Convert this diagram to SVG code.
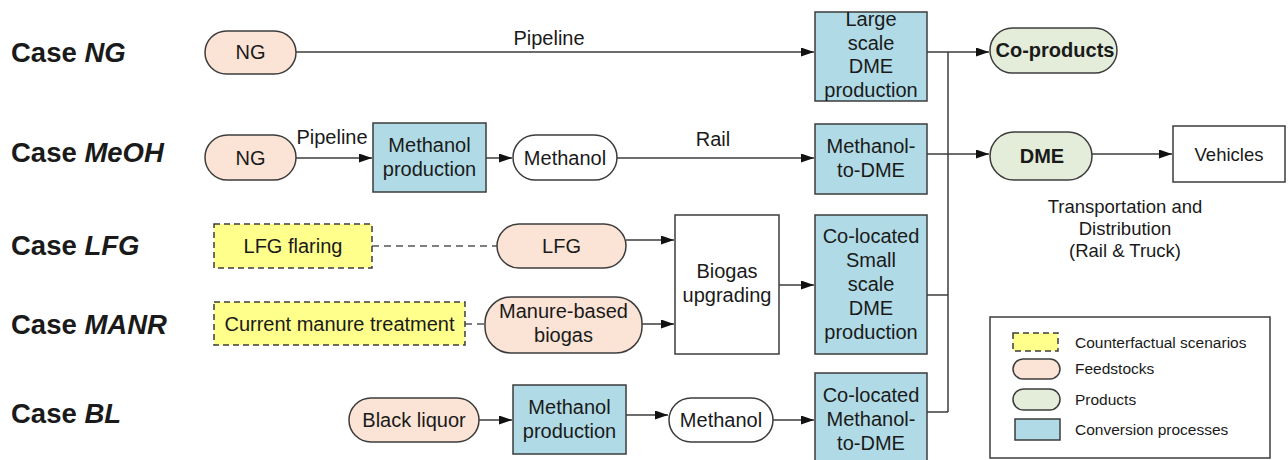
<svg xmlns="http://www.w3.org/2000/svg" width="1288" height="460" viewBox="0 0 1288 460">
  <style>
    text { font-family: "Liberation Sans", Arial, sans-serif; fill: #1a1a1a; }
    .case { font-size: 27.5px; font-weight: bold; }
    .lbl { font-size: 20px; text-anchor: middle; }
    .sm { font-size: 18.5px; text-anchor: middle; }
    .bold { font-weight: bold; }
    .leg { font-size: 15.5px; }
    .feed { fill: #fbe4d5; stroke: #3c3c3c; stroke-width: 1.5; }
    .prod { fill: #e3edd9; stroke: #3c3c3c; stroke-width: 1.5; }
    .proc { fill: #b0dbe6; stroke: #3c3c3c; stroke-width: 1.5; }
    .plain { fill: #ffffff; stroke: #3c3c3c; stroke-width: 1.5; }
    .cf { fill: #ffff8c; stroke: #3c3c3c; stroke-width: 1.5; stroke-dasharray: 6 4; }
    .wire { fill: none; stroke: #3c3c3c; stroke-width: 1.5; }
    .arrow { fill: none; stroke: #3c3c3c; stroke-width: 1.5; marker-end: url(#head); }
    .dash { fill: none; stroke: #555; stroke-width: 1.5; stroke-dasharray: 7 5; }
  </style>
  <defs>
    <marker id="head" markerUnits="userSpaceOnUse" markerWidth="14" markerHeight="9" refX="13" refY="4.5" orient="auto">
      <path d="M0,0 L13,4.5 L0,9 z" fill="#111"/>
    </marker>
  </defs>

  <rect width="1288" height="460" fill="#ffffff"/>

  <!-- case titles -->
  <g id="case-labels">
    <text class="case" x="11" y="62">Case <tspan font-style="italic">NG</tspan></text>
    <text class="case" x="11" y="162">Case <tspan font-style="italic">MeOH</tspan></text>
    <text class="case" x="11" y="255">Case <tspan font-style="italic">LFG</tspan></text>
    <text class="case" x="11" y="334">Case <tspan font-style="italic">MANR</tspan></text>
    <text class="case" x="11" y="423">Case <tspan font-style="italic">BL</tspan></text>
  </g>

  <!-- connectors -->
  <g id="connectors">
    <line class="arrow" x1="296" y1="52" x2="814" y2="52"/>
    <text class="lbl" x="549" y="45">Pipeline</text>

    <line class="arrow" x1="296" y1="158" x2="372" y2="158"/>
    <text class="lbl" x="332" y="144">Pipeline</text>
    <line class="arrow" x1="486" y1="158" x2="512" y2="158"/>
    <line class="arrow" x1="617" y1="158" x2="814" y2="158"/>
    <text class="lbl" x="713" y="146">Rail</text>

    <line class="dash" x1="372" y1="246" x2="497" y2="246"/>
    <line class="arrow" x1="626" y1="240" x2="674" y2="240"/>
    <line class="dash" x1="465" y1="324" x2="485" y2="324"/>
    <line class="arrow" x1="642" y1="324" x2="674" y2="324"/>
    <line class="arrow" x1="779" y1="285" x2="814" y2="285"/>

    <line class="arrow" x1="479" y1="420" x2="512" y2="420"/>
    <line class="arrow" x1="626" y1="415" x2="668" y2="415"/>
    <line class="arrow" x1="773" y1="420" x2="814" y2="420"/>

    <!-- collector bus -->
    <polyline class="wire" points="927,52 948,52"/>
    <polyline class="wire" points="927,154 948,154"/>
    <polyline class="wire" points="927,295 948,295"/>
    <polyline class="wire" points="927,412 948,412"/>
    <line class="wire" x1="948" y1="52" x2="948" y2="412"/>
    <line class="arrow" x1="948" y1="52" x2="989" y2="52"/>
    <line class="arrow" x1="948" y1="154" x2="989" y2="154"/>

    <line class="arrow" x1="1092" y1="154" x2="1172" y2="154"/>
  </g>

  <!-- Case NG -->
  <g id="ng1">
    <rect class="feed" x="205" y="31" width="91" height="43" rx="21.5"/>
    <text class="lbl" x="250.5" y="59">NG</text>
  </g>
  <g id="large-dme">
    <rect class="proc" x="815" y="12" width="112" height="89"/>
    <text class="lbl" x="871" y="26">Large</text>
    <text class="lbl" x="871" y="49.5">scale</text>
    <text class="lbl" x="871" y="73">DME</text>
    <text class="lbl" x="871" y="96.5">production</text>
  </g>

  <!-- Case MeOH -->
  <g id="ng2">
    <rect class="feed" x="205" y="135" width="91" height="45" rx="22.5"/>
    <text class="lbl" x="250.5" y="165">NG</text>
  </g>
  <g id="meoh-prod1">
    <rect class="proc" x="373" y="123" width="113" height="69"/>
    <text class="lbl" x="429.5" y="152">Methanol</text>
    <text class="lbl" x="429.5" y="176">production</text>
  </g>
  <g id="methanol1">
    <rect class="plain" x="513" y="135" width="104" height="45" rx="22.5"/>
    <text class="lbl" x="565" y="165">Methanol</text>
  </g>
  <g id="meoh-to-dme">
    <rect class="proc" x="815" y="124" width="112" height="70"/>
    <text class="lbl" x="871" y="153">Methanol-</text>
    <text class="lbl" x="871" y="177">to-DME</text>
  </g>

  <!-- Case LFG -->
  <g id="lfg-flaring">
    <rect class="cf" x="214" y="224" width="158" height="44"/>
    <text class="lbl" x="293" y="253">LFG flaring</text>
  </g>
  <g id="lfg">
    <rect class="feed" x="497" y="224" width="129" height="44" rx="22"/>
    <text class="lbl" x="561.5" y="253">LFG</text>
  </g>
  <g id="biogas-upgrading">
    <rect class="plain" x="675" y="215" width="104" height="139"/>
    <text class="lbl" x="727" y="278">Biogas</text>
    <text class="lbl" x="727" y="302">upgrading</text>
  </g>
  <g id="small-dme">
    <rect class="proc" x="815" y="215" width="112" height="139"/>
    <text class="lbl" x="871" y="243">Co-located</text>
    <text class="lbl" x="871" y="267">Small</text>
    <text class="lbl" x="871" y="291">scale</text>
    <text class="lbl" x="871" y="315">DME</text>
    <text class="lbl" x="871" y="339">production</text>
  </g>

  <!-- Case MANR -->
  <g id="manure-treatment">
    <rect class="cf" x="214" y="302" width="251" height="43"/>
    <text class="lbl" x="339.5" y="331">Current manure treatment</text>
  </g>
  <g id="manure-biogas">
    <rect class="feed" x="485" y="297" width="157" height="56" rx="26"/>
    <text class="lbl" x="563.5" y="318">Manure-based</text>
    <text class="lbl" x="563.5" y="342">biogas</text>
  </g>

  <!-- Case BL -->
  <g id="black-liquor">
    <rect class="feed" x="349" y="398" width="130" height="44" rx="22"/>
    <text class="lbl" x="414" y="427">Black liquor</text>
  </g>
  <g id="meoh-prod2">
    <rect class="proc" x="513" y="385" width="113" height="69"/>
    <text class="lbl" x="569.5" y="414">Methanol</text>
    <text class="lbl" x="569.5" y="438">production</text>
  </g>
  <g id="methanol2">
    <rect class="plain" x="669" y="398" width="104" height="44" rx="22"/>
    <text class="lbl" x="721" y="427">Methanol</text>
  </g>
  <g id="colocated-meoh-dme">
    <rect class="proc" x="815" y="373" width="112" height="92"/>
    <text class="lbl" x="871" y="402">Co-located</text>
    <text class="lbl" x="871" y="426">Methanol-</text>
    <text class="lbl" x="871" y="450">to-DME</text>
  </g>

  <!-- products and end use -->
  <g id="co-products">
    <rect class="prod" x="990" y="28" width="127" height="45" rx="22.5"/>
    <text class="lbl bold" x="1055" y="57" font-size="17.5">Co-products</text>
  </g>
  <g id="dme">
    <rect class="prod" x="990" y="132" width="102" height="48" rx="24"/>
    <text class="lbl bold" x="1042" y="163">DME</text>
  </g>
  <g id="vehicles">
    <rect class="plain" x="1173" y="126" width="112" height="56"/>
    <text class="sm" x="1229" y="161">Vehicles</text>
  </g>
  <g id="td-note">
    <text class="sm" x="1125" y="213">Transportation and</text>
    <text class="sm" x="1125" y="235">Distribution</text>
    <text class="sm" x="1125" y="257">(Rail &amp; Truck)</text>
  </g>

  <!-- key -->
  <g id="legend">
    <rect x="990" y="317" width="280" height="141" fill="#ffffff" stroke="#3c3c3c" stroke-width="1.5"/>
    <rect class="cf" x="1013" y="333" width="45" height="18" stroke-dasharray="5 3"/>
    <text class="leg" x="1075" y="348">Counterfactual scenarios</text>
    <rect class="feed" x="1013" y="359" width="47" height="20" rx="10"/>
    <text class="leg" x="1075" y="374">Feedstocks</text>
    <rect class="prod" x="1013" y="389" width="47" height="21" rx="10.5"/>
    <text class="leg" x="1075" y="405">Products</text>
    <rect class="proc" x="1015" y="419" width="45" height="21"/>
    <text class="leg" x="1075" y="435">Conversion processes</text>
  </g>
</svg>
